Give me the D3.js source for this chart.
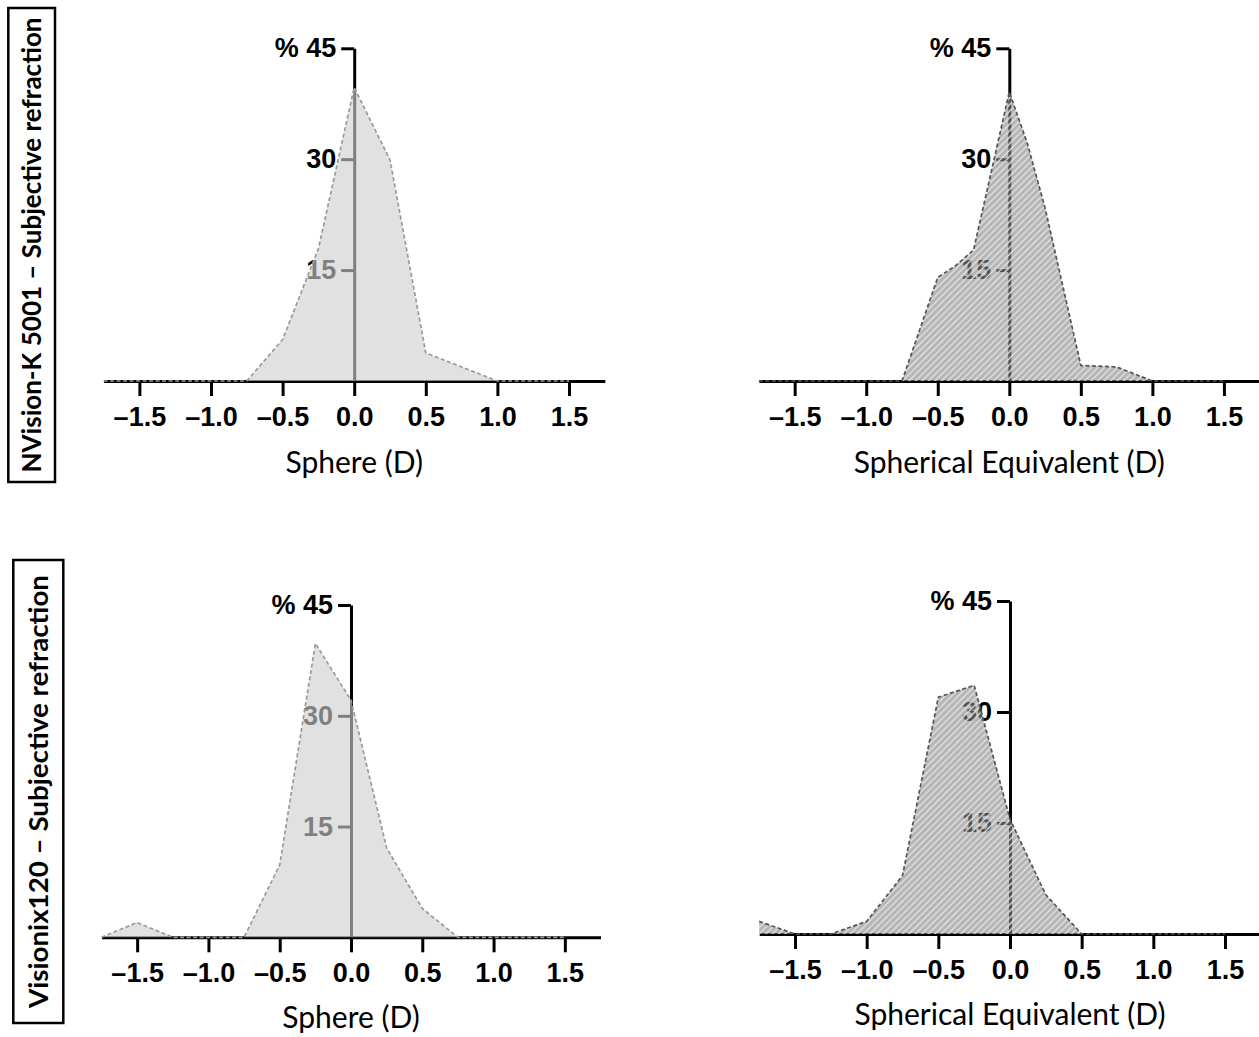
<!DOCTYPE html>
<html>
<head>
<meta charset="utf-8">
<script src="https://cdn.jsdelivr.net/npm/d3@7"></script>
<style>
    body { margin: 0; background: #ffffff; }
</style>
</head>
<body>
<div class="chartDiv"></div>
<script>
"use strict"

//
/* Data: */
//
var xTicks = [-1.5, -1.0, -0.5, 0.0, 0.5, 1.0, 1.5];
var yTicks = [15, 30, 45];

var rowNames = ["NVision-K 5001 \u2013 Subjective refraction", "Visionix120 \u2013 Subjective refraction"];
var colTitles = ["Sphere (D)", "Spherical Equivalent (D)"];

// NVision-K 5001, sphere (% of eyes)
var nvSphereX = [-1.75, -1.5, -1.25, -1.0, -0.75, -0.5, -0.25, 0.0, 0.25, 0.5, 0.75, 1.0, 1.25, 1.5];
var nvSphereY = [0, 0, 0, 0, 0, 5.6, 17.9, 39.7, 29.9, 3.8, 1.9, 0, 0, 0];

// NVision-K 5001, spherical equivalent
var nvSeX = [-1.75, -1.5, -1.25, -1.0, -0.75, -0.5, -0.375, -0.25, 0.0, 0.125, 0.25, 0.5, 0.75, 1.0, 1.25, 1.5];
var nvSeY = [0, 0, 0, 0, 0, 14.0, 15.6, 17.7, 39.1, 32.2, 23.4, 2.1, 1.9, 0, 0, 0];

// Visionix120, sphere
var vxSphereX = [-1.75, -1.5, -1.25, -1.0, -0.75, -0.5, -0.25, 0.0, 0.25, 0.5, 0.75, 1.0, 1.25, 1.5];
var vxSphereY = [0, 2.0, 0, 0, 0, 9.8, 39.8, 32.1, 12.1, 3.9, 0, 0, 0, 0];

// Visionix120, spherical equivalent
var vxSeX = [-1.75, -1.5, -1.25, -1.0, -0.75, -0.5, -0.25, 0.0, 0.25, 0.5, 0.75, 1.0, 1.25, 1.5];
var vxSeY = [1.7, 0, 0, 1.7, 7.9, 32.0, 33.6, 15.5, 5.3, 0, 0, 0, 0, 0];

var width = 1259;
var height = 1037;

var tickFont = "'Liberation Sans', Arial, Helvetica, sans-serif";
var titleFont = "Lato, 'Open Sans', sans-serif";

var svgContainer = d3.select(".chartDiv").append("svg")
                    .attr("width", width)
                    .attr("height", height);

// hatch used by the spherical equivalent panels
var hatchSize = 4.6;
var defs = svgContainer.append("defs");
var hatch = defs.append("pattern")
                .attr("id", "hatch")
                .attr("patternUnits", "userSpaceOnUse")
                .attr("width", hatchSize)
                .attr("height", hatchSize)
                .attr("patternTransform", "rotate(45)");
hatch.append("rect")
        .attr("width", hatchSize)
        .attr("height", hatchSize)
        .attr("fill", "rgb(130,130,130)")
        .attr("fill-opacity", 0.6);
hatch.append("rect")
        .attr("x", 0.6)
        .attr("width", 1.4)
        .attr("height", hatchSize)
        .attr("fill", "rgb(226,226,226)");

var panels = [
    {xs: nvSphereX, ys: nvSphereY, hatched: false, title: colTitles[0], xRange: [103.6, 604.8], yRange: [381, 48.3], titleY: 473},
    {xs: nvSeX,     ys: nvSeY,     hatched: true,  title: colTitles[1], xRange: [758.9, 1259.7], yRange: [381, 48.3], titleY: 473},
    {xs: vxSphereX, ys: vxSphereY, hatched: false, title: colTitles[0], xRange: [101.5, 600.5], yRange: [937.3, 605], titleY: 1028},
    {xs: vxSeX,     ys: vxSeY,     hatched: true,  title: colTitles[1], xRange: [759.2, 1260.8], yRange: [934, 601], titleY: 1025}
];

panels.forEach(function(p)
{
    var x = d3.scaleLinear().domain([-1.75, 1.75]).range(p.xRange);
    var y = d3.scaleLinear().domain([0, 45]).range(p.yRange);

    var g = svgContainer.append("g");

    var xAxis = d3.axisBottom(x)
                    .tickValues(xTicks)
                    .tickSize(15)
                    .tickSizeOuter(0)
                    .tickPadding(11)
                    .tickFormat(function(d) { return d3.format(".1f")(d).replace("\u2212", "\u2013") });

    var yAxis = d3.axisLeft(y)
                    .tickValues(yTicks)
                    .tickSize(13)
                    .tickSizeOuter(0)
                    .tickPadding(5)
                    .tickFormat(function(d) { return d === 45 ? "% 45" : d });

    var gx = g.append("g")
                .attr("transform", "translate(0," + y(0) + ")")
                .call(xAxis);

    var gy = g.append("g")
                .attr("transform", "translate(" + x(0) + ",0)")
                .call(yAxis);

    [gx, gy].forEach(function(a)
    {
        a.attr("font-family", tickFont).attr("font-size", 27).attr("font-weight", "bold");
        a.select(".domain").attr("stroke", "#000").attr("stroke-width", 3);
        a.selectAll(".tick line").attr("stroke", "#000").attr("stroke-width", 3);
        a.selectAll(".tick text").attr("fill", "#000");
    });

    var pts = p.xs.map(function(v, i) { return {x: v, y: p.ys[i]} });

    var area = d3.area()
                .x(function(d) { return x(d.x) })
                .y0(y(0))
                .y1(function(d) { return y(d.y) });

    var line = d3.line()
                .x(function(d) { return x(d.x) })
                .y(function(d) { return y(d.y) });

    if (p.hatched)
    {
        g.append("path").datum(pts)
            .attr("d", area)
            .attr("fill", "url(#hatch)");
    }
    else
    {
        g.append("path").datum(pts)
            .attr("d", area)
            .attr("fill", "rgb(206,206,206)")
            .attr("fill-opacity", 0.62);
    }

    g.append("path").datum(pts)
        .attr("d", line)
        .attr("fill", "none")
        .attr("stroke", p.hatched ? "#555" : "#9a9a9a")
        .attr("stroke-width", 1.7)
        .attr("stroke-dasharray", "4,2.5");

    g.append("text")
        .attr("x", (p.xRange[0] + p.xRange[1]) / 2)
        .attr("y", p.titleY)
        .attr("text-anchor", "middle")
        .attr("font-family", titleFont)
        .attr("font-size", 30)
        .attr("fill", "#000")
        .text(p.title);
});

// row labels in boxes
var boxes = [
    {x: 8.3, y: 8, w: 46.7, h: 474, len: 455, name: rowNames[0]},
    {x: 13.3, y: 560, w: 50, h: 463, len: 433, name: rowNames[1]}
];

boxes.forEach(function(b)
{
    svgContainer.append("rect")
        .attr("x", b.x).attr("y", b.y)
        .attr("width", b.w).attr("height", b.h)
        .attr("fill", "none")
        .attr("stroke", "#000")
        .attr("stroke-width", 2.5);

    var cx = b.x + b.w / 2;
    var cy = b.y + b.h / 2;
    svgContainer.append("text")
        .attr("transform", "translate(" + cx + "," + cy + ") rotate(-90)")
        .attr("text-anchor", "middle")
        .attr("dy", "0.36em")
        .attr("font-family", titleFont)
        .attr("font-weight", "bold")
        .attr("font-size", 26)
        .attr("textLength", b.len)
        .attr("lengthAdjust", "spacingAndGlyphs")
        .attr("fill", "#000")
        .text(b.name);
});
</script>
</body>
</html>
